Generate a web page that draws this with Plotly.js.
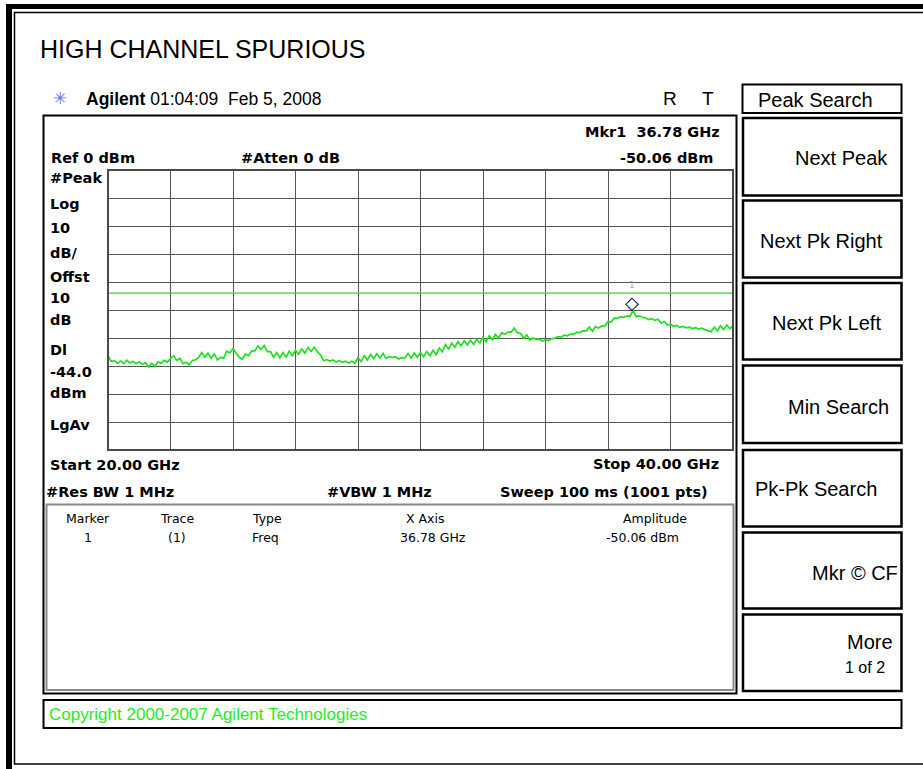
<!DOCTYPE html>
<html>
<head>
<meta charset="utf-8">
<script src="https://cdn.plot.ly/plotly-3.0.1.min.js"></script>
<style>
html,body{margin:0;padding:0;background:#fff;}
#chart{width:923px;height:769px;}
</style>
</head>
<body>
<div id="chart"></div>
<script>
var freqGHz = [20.0,20.1,20.2,20.3,20.4,20.5,20.6,20.7,20.8,20.9,
21.0,21.1,21.2,21.3,21.4,21.5,21.6,21.7,21.8,21.9,
22.0,22.1,22.2,22.3,22.4,22.5,22.6,22.7,22.8,22.9,
23.0,23.1,23.2,23.3,23.4,23.5,23.6,23.7,23.8,23.9,
24.0,24.1,24.2,24.3,24.4,24.5,24.6,24.7,24.8,24.9,
25.0,25.1,25.2,25.3,25.4,25.5,25.6,25.7,25.8,25.9,
26.0,26.1,26.2,26.3,26.4,26.5,26.6,26.7,26.8,26.9,
27.0,27.1,27.2,27.3,27.4,27.5,27.6,27.7,27.8,27.9,
28.0,28.1,28.2,28.3,28.4,28.5,28.6,28.7,28.8,28.9,
29.0,29.1,29.2,29.3,29.4,29.5,29.6,29.7,29.8,29.9,
30.0,30.1,30.2,30.3,30.4,30.5,30.6,30.7,30.8,30.9,
31.0,31.1,31.2,31.3,31.4,31.5,31.6,31.7,31.8,31.9,
32.0,32.1,32.2,32.3,32.4,32.5,32.6,32.7,32.8,32.9,
33.0,33.1,33.2,33.3,33.4,33.5,33.6,33.7,33.8,33.9,
34.0,34.1,34.2,34.3,34.4,34.5,34.6,34.7,34.8,34.9,
35.0,35.1,35.2,35.3,35.4,35.5,35.6,35.7,35.8,35.9,
36.0,36.1,36.2,36.3,36.4,36.5,36.6,36.7,36.8,36.9,
37.0,37.1,37.2,37.3,37.4,37.5,37.6,37.7,37.8,37.9,
38.0,38.1,38.2,38.3,38.4,38.5,38.6,38.7,38.8,38.9,
39.0,39.1,39.2,39.3,39.4,39.5,39.6,39.7,39.8,39.9,
40.0];
var levelDbm = [-66.3,-68.3,-68.1,-69.0,-68.2,-69.1,-67.9,-68.9,-68.3,-69.2,
-68.5,-69.4,-68.9,-70.3,-69.0,-70.2,-68.5,-69.0,-68.0,-68.6,
-67.3,-66.4,-68.0,-67.2,-69.2,-68.7,-69.6,-68.0,-67.8,-66.9,
-65.2,-66.9,-65.4,-67.3,-65.7,-67.8,-66.9,-67.2,-64.7,-65.3,
-63.8,-65.6,-66.9,-67.6,-65.7,-66.3,-64.6,-64.6,-62.8,-64.1,
-62.7,-64.9,-64.9,-66.9,-65.2,-67.1,-65.2,-66.8,-64.7,-66.3,
-64.4,-65.8,-63.9,-65.4,-63.4,-64.8,-63.3,-64.9,-66.0,-68.1,
-67.7,-68.2,-67.8,-68.6,-68.0,-68.7,-68.3,-68.9,-68.3,-69.0,
-67.0,-68.4,-66.3,-67.8,-65.8,-67.4,-65.6,-67.1,-65.5,-67.3,
-66.6,-67.0,-66.7,-67.5,-67.0,-67.1,-65.5,-67.2,-65.4,-66.9,
-65.2,-66.7,-64.8,-66.3,-64.4,-65.9,-63.6,-64.9,-62.4,-63.9,
-61.9,-63.3,-61.3,-62.8,-61.0,-62.5,-60.8,-62.3,-60.4,-61.7,
-59.8,-61.3,-59.2,-60.6,-58.7,-60.1,-58.1,-58.7,-57.9,-57.9,
-56.5,-58.1,-58.3,-60.1,-58.9,-60.7,-60.0,-60.5,-60.4,-61.1,
-60.6,-60.9,-60.2,-60.1,-59.5,-59.7,-59.0,-59.2,-58.6,-58.7,
-57.9,-58.1,-57.4,-57.5,-56.1,-57.6,-55.9,-56.4,-55.7,-55.7,
-54.1,-54.3,-52.9,-53.0,-52.4,-52.6,-52.1,-52.3,-50.1,-52.4,
-52.1,-52.6,-52.8,-53.4,-53.1,-53.7,-53.3,-54.7,-54.1,-55.4,
-55.1,-55.8,-55.5,-56.2,-55.9,-56.4,-56.1,-56.6,-56.3,-56.8,
-56.5,-57.0,-57.4,-57.8,-56.1,-57.4,-55.6,-57.0,-55.3,-56.7,
-55.6];
var refLevelDbm = 0;
var dbPerDiv = 10;
var displayLineDbm = -44.0;
var startGHz = 20.00;
var stopGHz = 40.00;
var markerFreqGHz = [36.78];
var markerAmpDbm = [-50.06];

var leftLabels = ["#Peak","Log","10","dB/","Offst","10","dB","Dl","-44.0","dBm","LgAv"];
var softKeys = ["Next Peak","Next Pk Right","Next Pk Left","Min Search","Pk-Pk Search","Mkr \u00a9 CF","More"];
var tableHeaders = ["Marker","Trace","Type","X Axis","Amplitude"];
var tableRow = ["1","(1)","Freq","36.78 GHz","-50.06 dBm"];

// ---- layout helpers (pixel -> paper) ----
var W = 923, H = 769;
function px(x){ return x / W; }
function py(y){ return 1 - y / H; }

var plotL = 108, plotR = 733, plotT = 170, plotB = 450;

var traces = [
  {
    x: freqGHz, y: levelDbm, type: 'scatter', mode: 'lines',
    line: {color: '#1fe01f', width: 1.7},
    hoverinfo: 'skip', showlegend: false
  },
  {
    x: [startGHz, stopGHz], y: [displayLineDbm, displayLineDbm],
    type: 'scatter', mode: 'lines',
    line: {color: '#3ccf3c', width: 1.2},
    hoverinfo: 'skip', showlegend: false
  }
];

var shapes = [];
function rect(x0,y0,x1,y1,color,width,fill){
  shapes.push({type:'rect', xref:'paper', yref:'paper',
    x0:px(x0), x1:px(x1), y0:py(y1), y1:py(y0),
    line:{color:color, width:width}, fillcolor: fill || 'rgba(0,0,0,0)', layer:'above'});
}
// outer page frame
rect(6,4,12,775,'#000',0,'#000');
rect(6,4,930,9,'#000',0,'#000');
rect(14.5,12.5,935,764,'#000',1.5);
// main trace box
rect(43.5,115.5,736.5,693.5,'#000',2);
// marker table box
rect(46.5,504.5,733.5,690,'#8a8a8a',2);
// plot border
rect(plotL,plotT,plotR,plotB,'#4a4a4a',2);
// softkeys
rect(742.5,84.5,901.5,113,'#000',2);
var skTop = [118,200.5,283,365.5,450,532.5,614.5];
var skBot = [195.5,277.5,359.5,443,526.5,608.5,691];
for (var i=0;i<skTop.length;i++){ rect(743,skTop[i],901.5,skBot[i],'#000',2.5); }
// copyright box
rect(43.5,700,901.5,728,'#000',2);

var annotations = [];
function txt(t,x,y,opts){
  opts = opts || {};
  annotations.push({text:t, xref:'paper', yref:'paper', x:px(x), y:py(y),
    xanchor: opts.anchor || 'left', yanchor:'middle', showarrow:false,
    font:{family: opts.family || 'Liberation Sans, Arial, sans-serif', size: opts.size || 14, color: opts.color || '#000'}});
}
var BOLD = 'DejaVu Sans, sans-serif';
txt('HIGH CHANNEL SPURIOUS', 38, 49, {size:25});
txt('\u2733', 60, 98, {anchor:'center', size:17, color:'#6a6aff', family:'DejaVu Sans'});
txt('<b>Agilent</b> 01:04:09\u00a0 Feb 5, 2008', 84, 99, {size:17.5});
txt('R', 670, 98, {anchor:'center', size:19});
txt('T', 708, 98, {anchor:'center', size:19});
txt('Peak Search', 756, 100, {size:20});

txt('<b>Mkr1\u00a0 36.78 GHz</b>', 722, 132, {anchor:'right', size:14.5, family:BOLD});
txt('<b>Ref 0 dBm</b>', 49, 158, {size:14.5, family:BOLD});
txt('<b>#Atten 0 dB</b>', 239, 158, {size:14.5, family:BOLD});
txt('<b>-50.06 dBm</b>', 715, 158, {anchor:'right', size:14.5, family:BOLD});

var leftY = [178,204,228,253,277,298,320,350,372,393,425];
for (var j=0;j<leftLabels.length;j++){
  txt('<b>'+leftLabels[j]+'</b>', 48, leftY[j], {size:14.5, family:BOLD});
}
txt('<b>Start 20.00 GHz</b>', 48, 465, {size:14.5, family:BOLD});
txt('<b>Stop 40.00 GHz</b>', 721, 464, {anchor:'right', size:14.5, family:BOLD});
txt('<b>#Res BW 1 MHz</b>', 44, 492, {size:14.5, family:BOLD});
txt('<b>#VBW 1 MHz</b>', 325, 492, {size:14.5, family:BOLD});
txt('<b>Sweep 100 ms (1001 pts)</b>', 498, 492, {size:14.5, family:BOLD});

var colX = [88,177,250,425,655];
var colA = ['center','center','left','center','center'];
var rowX = [88,177,250,433,642];
for (var k=0;k<tableHeaders.length;k++){
  txt(tableHeaders[k], colX[k], 518, {anchor:colA[k], size:12.5, family:'DejaVu Sans'});
  txt(tableRow[k], rowX[k], 537, {anchor:colA[k], size:12.5, family:'DejaVu Sans'});
}

// softkey labels
var skX = [890,758,883,891,753,900,895];
var skA = ['right','left','right','right','left','right','right'];
var skY = [158,241,323,407,489,573,642];
for (var m=0;m<softKeys.length;m++){
  txt(softKeys[m], skX[m], skY[m], {anchor:skA[m], size:20});
}
txt('1 of 2', 887, 667, {anchor:'right', size:16});

txt('Copyright 2000-2007 Agilent Technologies', 47, 714, {size:17, color:'#22ee22'});

// marker symbol and label, placed at marker data coordinates
annotations.push({text:'<b>\u25C7</b>', xref:'x', yref:'y', x:markerFreqGHz[0], y:markerAmpDbm[0],
  xanchor:'center', yanchor:'middle', yshift:8, showarrow:false,
  font:{family:'DejaVu Sans', size:18, color:'#000'}});
annotations.push({text:'1', xref:'x', yref:'y', x:markerFreqGHz[0], y:markerAmpDbm[0],
  xanchor:'center', yanchor:'middle', yshift:25, showarrow:false,
  font:{family:'DejaVu Sans', size:9, color:'#b0b0b0'}});

var layout = {
  width: W, height: H,
  margin: {l:0, r:0, t:0, b:0},
  paper_bgcolor: '#fff', plot_bgcolor: '#fff',
  showlegend: false,
  xaxis: {
    domain: [px(plotL), px(plotR)], range: [startGHz, stopGHz],
    tick0: startGHz, dtick: (stopGHz-startGHz)/10,
    showticklabels: false, ticks: '', showgrid: true,
    gridcolor: '#555', gridwidth: 1, zeroline: false, showline: false, fixedrange: true
  },
  yaxis: {
    domain: [py(plotB), py(plotT)], range: [refLevelDbm - 10*dbPerDiv, refLevelDbm],
    tick0: refLevelDbm, dtick: dbPerDiv,
    showticklabels: false, ticks: '', showgrid: true,
    gridcolor: '#555', gridwidth: 1, zeroline: false, showline: false, fixedrange: true
  },
  shapes: shapes,
  annotations: annotations
};

Plotly.newPlot('chart', traces, layout, {staticPlot: true, displayModeBar: false});
</script>
</body>
</html>
